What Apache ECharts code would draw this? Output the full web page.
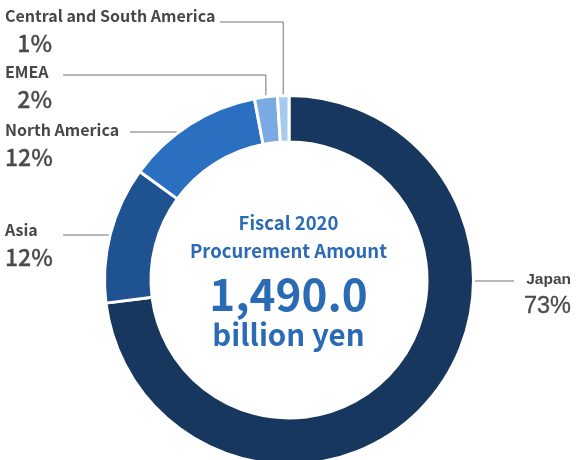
<!DOCTYPE html>
<html>
<head>
<meta charset="utf-8">
<title>Procurement by region</title>
<script src="https://cdn.jsdelivr.net/npm/echarts@6/dist/echarts.min.js"></script>
<style>
  html, body { margin: 0; padding: 0; background: #fff; }
  #chart { width: 577px; height: 460px; }
</style>
</head>
<body>
<div id="chart"></div>
<script>
const categories = ["Japan", "Asia", "North America", "EMEA", "Central and South America"];
const shares = [73, 12, 12, 2, 1];
const centerLines = ["Fiscal 2020", "Procurement Amount", "1,490.0", "billion yen"];

const colors = ["#17375f", "#1f5290", "#2a6fc0", "#79aae3", "#a8c9ee"];
const FONT = '"Noto Sans CJK JP", "Noto Sans", sans-serif';
const CX = 289;
const CY = 280;
const R = 183;

// where each label sits and where its leader line turns (layout only)
const labelSpots = [
  { x: 571, y: 269, align: "right", lineY: 281, lineX: 514, bend: false },
  { x: 5, y: 219, align: "left", lineY: 235, lineX: 63, bend: false },
  { x: 5, y: 119, align: "left", lineY: 132, lineX: 130, bend: false },
  { x: 5, y: 61, align: "left", lineY: 75, lineX: 63, bend: true },
  { x: 5, y: 5, align: "left", lineY: 22, lineX: 220, bend: true },
];

// percentages on the left are right-aligned under a 47px column
const measureCtx = document.createElement("canvas").getContext("2d");
measureCtx.font = "500 23px " + FONT;
const pctPad = (txt) => Math.max(0, 47 - measureCtx.measureText(txt).width);

const chart = echarts.init(document.getElementById("chart"));

const option = {
  animation: false,
  title: {
    left: "center",
    top: 209,
    padding: 0,
    text:
      "{a|" + centerLines[0] + "}\n{a|" + centerLines[1] + "}\n{b|" +
      centerLines[2] + "}\n{c|" + centerLines[3] + "}",
    textStyle: {
      rich: {
        a: { fontFamily: FONT, fontWeight: "bold", fontSize: 18.5, lineHeight: 28, color: "#2b6bb6", align: "center" },
        b: { fontFamily: FONT, fontWeight: "bold", fontSize: 44, lineHeight: 58, color: "#2b6bb6", align: "center" },
        c: { fontFamily: FONT, fontWeight: "bold", fontSize: 29.5, lineHeight: 24, color: "#2b6bb6", align: "center" },
      },
    },
  },
  series: [
    {
      type: "pie",
      center: [CX, CY],
      radius: [138, R + 1.5],
      startAngle: 90,
      clockwise: true,
      avoidLabelOverlap: false,
      itemStyle: { borderColor: "#fff", borderWidth: 3 },
      emphasis: { disabled: true },
      label: {
        show: true,
        position: "outside",
        formatter: (p) => {
          const pct = p.value + "%";
          if (p.dataIndex === 0) {
            return "{jn|" + p.name + "}\n{jp|" + pct + "}";
          }
          return "{n|" + p.name + "}\n{p" + p.dataIndex + "|" + pct + "}";
        },
        rich: Object.assign(
          {
            n: { fontFamily: FONT, fontWeight: "bold", fontSize: 16, lineHeight: 22, color: "#474747" },
            jn: { fontFamily: '"Liberation Sans", Arial, sans-serif', fontWeight: "bold", fontSize: 15.5, lineHeight: 22, color: "#474747", align: "right" },
            jp: {
              fontFamily: '"Liberation Sans", Arial, sans-serif', fontSize: 23.5, lineHeight: 32,
              color: "#4a4a4a", textBorderColor: "#4a4a4a", textBorderWidth: 0.3, align: "right",
            },
          },
          ...shares.map((v, i) => ({
            ["p" + i]: {
              fontFamily: FONT,
              fontWeight: 500,
              fontSize: 23,
              lineHeight: 32,
              color: "#4a4a4a",
              textBorderColor: "#4a4a4a",
              textBorderWidth: 0.3,
              padding: [0, 0, 0, pctPad(v + "%")],
            },
          }))
        ),
      },
      labelLine: {
        show: true,
        lineStyle: { color: "#707070", width: 1 },
      },
      labelLayout: (params) => {
        const s = labelSpots[params.dataIndex];
        let points;
        if (s.bend) {
          const edge = params.labelLinePoints[0];
          points = [[edge[0], edge[1]], [edge[0], s.lineY], [s.lineX, s.lineY]];
        } else {
          const side = s.align === "right" ? 1 : -1;
          const edgeX = CX + side * Math.sqrt(R * R - (s.lineY - CY) * (s.lineY - CY));
          points = [[edgeX, s.lineY], [edgeX, s.lineY], [s.lineX, s.lineY]];
        }
        return {
          x: s.x,
          y: s.y,
          align: s.align,
          verticalAlign: "top",
          labelLinePoints: points,
        };
      },
      data: categories.map((name, i) => ({
        name: name,
        value: shares[i],
        itemStyle: { color: colors[i] },
      })),
    },
  ],
};

chart.setOption(option);
window.addEventListener("resize", () => chart.resize());
</script>
</body>
</html>
